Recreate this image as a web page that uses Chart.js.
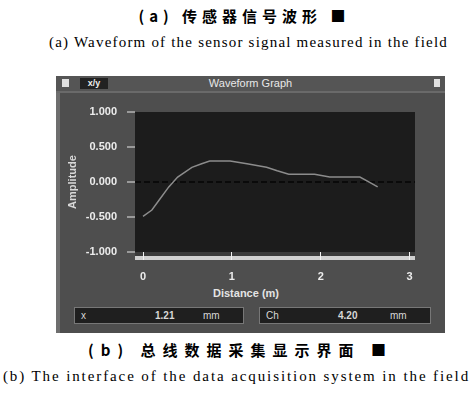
<!DOCTYPE html>
<html>
<head>
<meta charset="utf-8">
<script src="https://cdn.jsdelivr.net/npm/chart.js@4/dist/chart.umd.min.js"></script>
<style>
  html, body { margin: 0; padding: 0; background: #fff; width: 473px; height: 399px; overflow: hidden; }
  body { position: relative; font-family: "Liberation Sans", "DejaVu Sans", sans-serif; }
  .cap { position: absolute; width: 473px; text-align: center; color: #000; white-space: nowrap; }
  .cn { font-family: "Noto Sans CJK SC", sans-serif; font-size: 15px; font-weight: bold; }
  .en { font-family: "Liberation Serif", serif; font-size: 15px; }
  #panel { position: absolute; left: 56px; top: 76px; width: 389px; height: 257px; background: #4e4e4e; }
  #panel .edge { position: absolute; left: 0; top: 0; width: 4px; height: 257px; background: #6e6e6e; }
  #titlebar { position: absolute; left: 0; top: 0; width: 389px; height: 15px; background: #555; border-bottom: 2px solid #6a6a6a; }
  #titlebar .t { position: absolute; left: 0; width: 389px; top: 1px; text-align: center; color: #e8e8e8; font-size: 11px; }
  #titlebar .ic { position: absolute; top: 3px; width: 7px; height: 8px; background: #e0e0e0; }
  #titlebar .xy { position: absolute; left: 24px; top: 2px; width: 28px; height: 11px; background: #222; color: #eee; font-size: 9px; line-height: 11px; text-align: center; font-weight: bold; }
  #slider { position: absolute; left: 79px; top: 180px; width: 280px; height: 4px; background: #d0d0d0; }
  #band { position: absolute; left: 79px; top: 176px; width: 280px; height: 4px; background: #3a3a3a; }
  #xtitle { position: absolute; left: 140px; top: 211px; width: 100px; text-align: center; color: #e4e4e4; font-size: 11px; font-weight: bold; }
  .num { position: absolute; top: 231px; height: 15px; background: #1f1f1f; border: 1px solid #777; color: #d8d8d8; font-size: 10px; line-height: 15px; }
  .num span { position: absolute; top: 0; }
  canvas#c { position: absolute; left: 56px; top: 93px; }
</style>
</head>
<body>
<div class="cap cn" style="left:8px; top:5px; letter-spacing:5px;">(a) 传感器信号波形 ■</div>
<div class="cap en" style="left:12px; top:34px; letter-spacing:1.2px;">(a) Waveform of the sensor signal measured in the field</div>

<div id="panel">
  <div class="edge"></div>
  <div id="titlebar">
    <div class="ic" style="left:6px;"></div>
    <div class="xy">x/y</div>
    <div class="t">Waveform Graph</div>
    <div class="ic" style="left:378px; width:6px;"></div>
  </div>
  <div id="band"></div>
  <div id="slider"></div>
  <div id="xtitle">Distance (m)</div>
  <div class="num" style="left:18px; width:168px;"><span style="left:6px;">x</span><span style="left:80px; font-weight:bold;">1.21</span><span style="left:128px;">mm</span></div>
  <div class="num" style="left:203px; width:170px;"><span style="left:6px;">Ch</span><span style="left:78px; font-weight:bold;">4.20</span><span style="left:130px;">mm</span></div>
</div>

<canvas id="c" width="389" height="207"></canvas>

<div class="cap cn" style="left:4px; top:339px; letter-spacing:7px;">(b) 总线数据采集显示界面 ■</div>
<div class="cap en" style="left:0px; top:368px; letter-spacing:1.9px;">(b) The interface of the data acquisition system in the field</div>

<script>
// measured waveform: position along the line (m) and signal amplitude
const distance  = [0.00, 0.10, 0.18, 0.29, 0.39, 0.55, 0.66, 0.75, 0.98, 1.17, 1.39, 1.51, 1.64, 1.93, 2.10, 2.44, 2.53, 2.64];
const amplitude = [-0.49, -0.40, -0.26, -0.07, 0.07, 0.21, 0.26, 0.30, 0.30, 0.26, 0.21, 0.16, 0.11, 0.11, 0.07, 0.07, 0.01, -0.07];

// axis ticks
const xTickValues = [0, 1, 2, 3];
const xTickLabels = ['0', '1', '2', '3'];
const yTickValues = [1, 0.5, 0, -0.5, -1];
const yTickLabels = ['1.000', '0.500', '0.000', '-0.500', '-1.000'];

const points = distance.map((d, i) => ({ x: d, y: amplitude[i] }));

// dark plot background
const plotBg = {
  id: 'plotBg',
  beforeDraw(chart) {
    const a = chart.chartArea, ctx = chart.ctx;
    ctx.save();
    ctx.fillStyle = '#1c1c1c';
    ctx.fillRect(a.left, a.top, a.right - a.left, a.bottom - a.top);
    ctx.restore();
  }
};

new Chart(document.getElementById('c'), {
  type: 'line',
  data: {
    datasets: [{
      data: points,
      borderColor: '#8c8c8c',
      borderWidth: 1.5,
      pointRadius: 0,
      tension: 0
    }]
  },
  options: {
    responsive: false,
    animation: false,
    layout: { padding: { top: 19, right: 30, left: 0, bottom: 0 } },
    plugins: { legend: { display: false }, tooltip: { enabled: false } },
    scales: {
      x: {
        type: 'linear',
        min: -0.09,
        max: 3.06,
        afterBuildTicks(s) { s.ticks = xTickValues.map(v => ({ value: v })); },
        afterFit(s) { s.height = 48; },
        grid: { drawOnChartArea: false, drawTicks: true, tickLength: 8, tickColor: '#f0f0f0', lineWidth: 1 },
        border: { display: false },
        ticks: {
          color: '#ececec',
          font: { size: 11, weight: 'bold', family: 'Liberation Sans' },
          padding: 10,
          maxRotation: 0,
          callback: (v) => xTickLabels[xTickValues.indexOf(v)] ?? ''
        }
      },
      y: {
        min: -1,
        max: 1,
        afterBuildTicks(s) { s.ticks = yTickValues.map(v => ({ value: v })); },
        afterFit(s) { s.width = 79; },
        grid: {
          drawOnChartArea: true,
          drawTicks: true,
          tickLength: 8,
          tickColor: '#9a9a9a',
          tickBorderDash: [],
          color: (c) => (c.tick && c.tick.value === 0) ? '#0a0a0a' : 'rgba(0,0,0,0)',
          lineWidth: 2
        },
        border: { display: false, dash: [6, 3] },
        title: {
          display: true,
          text: 'Amplitude',
          color: '#d8d8d8',
          font: { size: 11, weight: 'bold', family: 'Liberation Sans' },
          padding: { top: 10, bottom: 0 }
        },
        ticks: {
          color: '#ececec',
          font: { size: 11, weight: 'bold', family: 'Liberation Sans' },
          padding: 10,
          callback: (v) => yTickLabels[yTickValues.indexOf(v)] ?? ''
        }
      }
    }
  },
  plugins: [plotBg]
});
</script>
</body>
</html>
